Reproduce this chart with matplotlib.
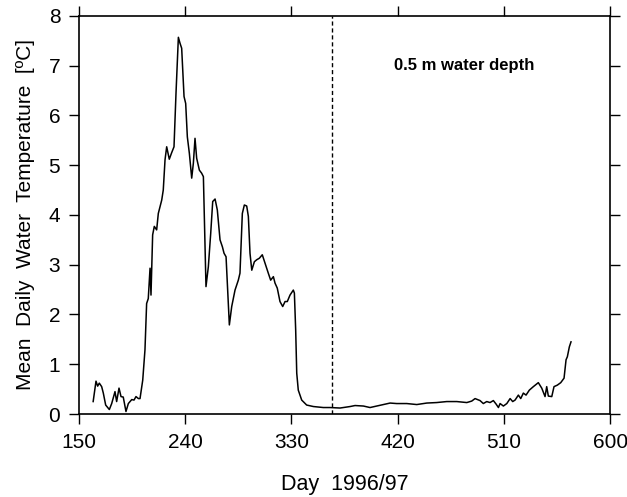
import matplotlib.pyplot as plt

plt.rcParams['font.family'] = ['Liberation Sans', 'DejaVu Sans']

# mean daily water temperature at 0.5 m depth
days = [162, 164.4, 165.8, 167.2, 169.2, 170.6, 172.6, 175.7, 177.7, 180.5,
        181.9, 183.9, 185.6, 187.5, 189.8, 191.8, 194.7, 196.6, 198.3, 200.3,
        201.7, 204, 205.9, 207.3, 208.7, 210.2, 211, 212.4, 213.8, 215.8,
        217.2, 220.1, 221.4, 222.9, 224.3, 226.5, 228.5, 230.5, 232.2, 234.2,
        235.6, 237, 239, 240.4, 241.8, 243.5, 245.5, 246.9, 248.3, 249.7,
        252, 253.9, 255.4, 257.6, 259.6, 261.6, 263.3, 265.3, 267.2, 269.5,
        271.5, 272.9, 274.6, 277.4, 279.4, 282.2, 285, 286.4, 288.4, 290.1,
        292.1, 293.5, 294.9, 296.4, 298.6, 300.6, 302.8, 305.3, 307.6, 310.4,
        312.4, 314.7, 316.1, 318, 320.3, 322.6, 324.6, 326.5, 328.8, 331.6,
        332.5, 333.6, 334.5, 335.8, 338.7, 342.9, 348.6, 357,
        362.7, 371.2, 379.7, 383.9, 391, 396.6, 402.3, 407.9, 413.6, 419.2,
        427.7, 436.2, 444.7, 453.1, 461.6, 470.1, 478.6, 482.8, 485.6, 489.8,
        492.6, 495.5, 498.3, 501.1, 503.4, 505.4, 506.8, 509.6, 512.5, 515.3,
        517.5, 519.5, 522.3, 524.3, 526.5, 528.8, 531.6, 535, 539.2, 542.1,
        544.9, 546.3, 547.7, 550.6, 552.5, 555.3, 558.2, 561, 562.7, 563.8,
        565.5, 566.9]
temps = [0.25, 0.66, 0.56, 0.62, 0.55, 0.42, 0.18, 0.09, 0.21, 0.45,
         0.25, 0.52, 0.35, 0.34, 0.05, 0.21, 0.29, 0.28, 0.35, 0.31,
         0.31, 0.68, 1.29, 2.22, 2.32, 2.93, 2.39, 3.60, 3.77, 3.70,
         4.03, 4.30, 4.50, 5.11, 5.37, 5.12, 5.25, 5.37, 6.45, 7.57,
         7.45, 7.35, 6.38, 6.24, 5.57, 5.24, 4.74, 5.04, 5.54, 5.14,
         4.90, 4.84, 4.77, 2.56, 2.96, 3.63, 4.27, 4.32, 4.10, 3.50,
         3.36, 3.23, 3.16, 1.79, 2.16, 2.49, 2.69, 2.83, 4.03, 4.20,
         4.18, 3.97, 3.23, 2.89, 3.06, 3.10, 3.13, 3.20, 3.03, 2.83,
         2.69, 2.76, 2.63, 2.53, 2.26, 2.16, 2.26, 2.26, 2.39, 2.49,
         2.43, 1.69, 0.82, 0.48, 0.28, 0.18, 0.15, 0.13,
         0.13, 0.12, 0.15, 0.17, 0.16, 0.13, 0.16, 0.19, 0.22, 0.21,
         0.21, 0.19, 0.22, 0.23, 0.25, 0.25, 0.23, 0.26, 0.31, 0.27,
         0.21, 0.25, 0.23, 0.27, 0.20, 0.13, 0.21, 0.16, 0.21, 0.31,
         0.25, 0.28, 0.38, 0.31, 0.42, 0.38, 0.48, 0.55, 0.63, 0.52,
         0.35, 0.55, 0.36, 0.35, 0.55, 0.58, 0.63, 0.72, 1.09, 1.15,
         1.35, 1.45]

year_change = 364
x_ticks = [150, 240, 330, 420, 510, 600]
y_ticks = [0, 1, 2, 3, 4, 5, 6, 7, 8]

fig = plt.figure(figsize=(6.27, 4.97), dpi=100)
ax = fig.add_axes([0.126, 0.167, 0.847, 0.801])

ax.plot(days, temps, color='black', linewidth=1.1)
ax.axvline(year_change, color='black', linewidth=1.0, linestyle=(0, (3, 2)))

ax.text(476, 7.0, '0.5 m water depth', ha='center', va='center',
        fontsize=12, fontweight='bold')

ax.set_xlim(150, 600)
ax.set_ylim(0, 8)
ax.set_xticks(x_ticks)
ax.set_yticks(y_ticks)
ax.tick_params(direction='out', length=7.5, width=1.0, labelsize=15,
               pad=6, top=True, right=True)
for s in ax.spines.values():
    s.set_linewidth(1.2)

ax.set_xlabel('Day  1996/97', fontsize=15.5, labelpad=16)
ax.set_ylabel('Mean  Daily  Water  Temperature  [ºC]', fontsize=15, labelpad=10)

plt.savefig('out.png', dpi=100)
